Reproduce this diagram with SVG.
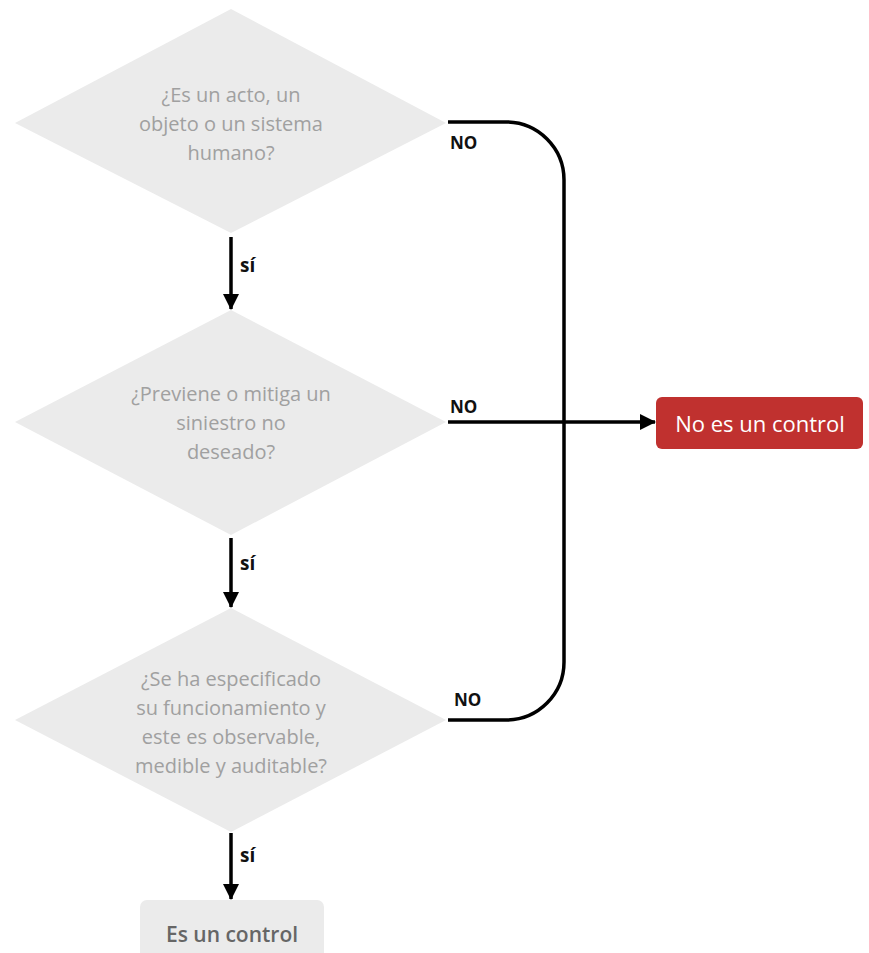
<svg xmlns="http://www.w3.org/2000/svg" width="869" height="953" viewBox="0 0 869 953">
<defs>
<style>
.dia{fill:#ebebeb}
.q{font-family:"Open Sans","Liberation Sans",sans-serif;font-size:20px;fill:#a0a0a0;text-anchor:middle}
.lbl{font-family:"Open Sans","Liberation Sans",sans-serif;font-size:17px;font-weight:700;fill:#111}
.si{font-size:19px}
.ln{stroke:#000;stroke-width:3.5;fill:none}
</style>
<marker id="ah" markerWidth="16" markerHeight="18" refX="15" refY="9" orient="auto" markerUnits="userSpaceOnUse" viewBox="0 0 16 18">
<path d="M0,1 L16,9 L0,17 Z" fill="#000"/>
</marker>
</defs>
<rect width="869" height="953" fill="#fff"/>
<g id="n1">
<polygon class="dia" points="231,9 446,123 231,233 15,123"/>
<text class="q" x="231" y="102">¿Es un acto, un</text>
<text class="q" x="231" y="131">objeto o un sistema</text>
<text class="q" x="231" y="160">humano?</text>
</g>
<g id="n2">
<polygon class="dia" points="231,310 446,422 231,535 15,422"/>
<text class="q" x="231" y="401">¿Previene o mitiga un</text>
<text class="q" x="231" y="430">siniestro no</text>
<text class="q" x="231" y="459">deseado?</text>
</g>
<g id="n3">
<polygon class="dia" points="231,608 446,720 231,832 15,720"/>
<text class="q" x="231" y="686">¿Se ha especificado</text>
<text class="q" x="231" y="715">su funcionamiento y</text>
<text class="q" x="231" y="744">este es observable,</text>
<text class="q" x="231" y="773">medible y auditable?</text>
</g>
<g id="n4">
<rect x="140" y="900" width="184" height="70" rx="7" fill="#ebebeb"/>
<text x="232" y="942" text-anchor="middle" font-family="'Open Sans','Liberation Sans',sans-serif" font-size="21" font-weight="600" fill="#666">Es un control</text>
</g>
<g id="n5">
<rect x="656" y="397" width="207" height="52" rx="6" fill="#c0312f"/>
<text x="760" y="432" text-anchor="middle" font-family="'Open Sans','Liberation Sans',sans-serif" font-size="22" fill="#fff">No es un control</text>
</g>
<g id="connectors">
<line class="ln" x1="231" y1="237" x2="231" y2="309" marker-end="url(#ah)"/>
<line class="ln" x1="231" y1="538" x2="231" y2="607" marker-end="url(#ah)"/>
<line class="ln" x1="231" y1="833" x2="231" y2="899" marker-end="url(#ah)"/>
<path class="ln" d="M448,122 H506 A58,58 0 0 1 564,180 V662 A58,58 0 0 1 506,720 H448"/>
<line class="ln" x1="448" y1="422" x2="655" y2="422" marker-end="url(#ah)"/>
<text class="lbl si" x="240" y="272">sí</text>
<text class="lbl si" x="240" y="570">sí</text>
<text class="lbl si" x="240" y="862">sí</text>
<text class="lbl" x="450" y="149">NO</text>
<text class="lbl" x="450" y="413">NO</text>
<text class="lbl" x="454" y="706">NO</text>
</g>
</svg>
